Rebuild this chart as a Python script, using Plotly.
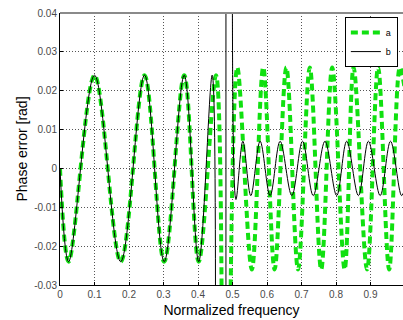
import plotly.graph_objects as go

# ---- data ----
# series "a" (green dashed): extrema of the oscillation, None = break (off-scale excursion)
freq_a = [0.0, 0.025, 0.100, 0.176, 0.245, 0.302, 0.360, 0.402, 0.452, 0.470,
          None,
          0.490, 0.514, 0.556, 0.589, 0.622, 0.656, 0.690, 0.724, 0.757, 0.789,
          0.825, 0.851, 0.890, 0.922, 0.954, 0.985, 1.0]
phase_a = [0.0, -0.024, 0.024, -0.024, 0.024, -0.024, 0.024, -0.024, 0.024, -0.070,
           None,
           -0.070, 0.026, -0.026, 0.026, -0.026, 0.026, -0.026, 0.026, -0.026, 0.026,
           -0.026, 0.026, -0.026, 0.026, -0.026, 0.026, 0.020]

# series "b" (black solid)
freq_b = [0.0, 0.025, 0.100, 0.176, 0.245, 0.302, 0.360, 0.402, 0.441, 0.4505,
          None,
          0.481, 0.481,
          None,
          0.4995, 0.510, 0.530, 0.553, 0.580, 0.609, 0.638, 0.672, 0.703, 0.734,
          0.768, 0.802, 0.831, 0.865, 0.894, 0.928, 0.958, 0.990, 1.0]
phase_b = [0.0, -0.024, 0.024, -0.024, 0.024, -0.024, 0.024, -0.024, 0.024, -0.060,
           None,
           -0.060, 0.060,
           None,
           0.060, -0.008, 0.007, -0.007, 0.007, -0.007, 0.007, -0.007, 0.007, -0.007,
           0.007, -0.007, 0.007, -0.007, 0.007, -0.007, 0.007, -0.007, -0.005]

x_tick_vals = [0, 0.1, 0.2, 0.3, 0.4, 0.5, 0.6, 0.7, 0.8, 0.9]
x_tick_text = ["0", "0.1", "0.2", "0.3", "0.4", "0.5", "0.6", "0.7", "0.8", "0.9"]
y_tick_vals = [-0.03, -0.02, -0.01, 0, 0.01, 0.02, 0.03, 0.04]
y_tick_text = ["-0.03", "-0.02", "-0.01", "0", "0.01", "0.02", "0.03", "0.04"]

fig = go.Figure()
fig.add_trace(go.Scatter(
    x=freq_a, y=phase_a, mode="lines", name="a",
    line=dict(color="#10e010", width=4, dash="7px,4px", shape="spline"),
    connectgaps=False,
))
fig.add_trace(go.Scatter(
    x=freq_b, y=phase_b, mode="lines", name="b",
    line=dict(color="black", width=1, shape="spline"),
    connectgaps=False,
))

axis_font = dict(family="Liberation Sans, Arial, sans-serif", size=10, color="#4a4a4a")
title_font = dict(family="Liberation Sans, Arial, sans-serif", size=14, color="black")

fig.update_layout(
    width=403, height=320,
    margin=dict(l=60, r=0, t=13, b=35, autoexpand=False),
    paper_bgcolor="white", plot_bgcolor="white",
    showlegend=True,
    legend=dict(
        x=0.985, y=0.985, xanchor="right", yanchor="top",
        bgcolor="white", bordercolor="black", borderwidth=1,
        font=dict(family="Liberation Sans, Arial, sans-serif", size=9, color="black"),
        itemwidth=30, tracegroupgap=0,
    ),
    xaxis=dict(
        range=[0, 343 / 345], tickvals=x_tick_vals, ticktext=x_tick_text,
        ticks="inside", ticklen=3, tickcolor="black",
        showline=True, linecolor="black", linewidth=1, mirror=False,
        showgrid=True, gridcolor="#555555", gridwidth=1, griddash="1px,2px",
        zeroline=False, tickfont=axis_font, automargin=False,
        title=dict(text="Normalized frequency", font=title_font, standoff=6),
    ),
    yaxis=dict(
        range=[-0.03, 0.04], tickvals=y_tick_vals, ticktext=y_tick_text,
        ticks="inside", ticklen=3, tickcolor="black",
        showline=True, linecolor="black", linewidth=1, mirror=False,
        showgrid=True, gridcolor="#555555", gridwidth=1, griddash="1px,2px",
        zeroline=False, tickfont=axis_font, automargin=False,
        title=dict(text="Phase error [rad]", font=title_font, standoff=3),
    ),
    shapes=[dict(type="line", xref="paper", yref="paper", x0=0, x1=1, y0=1, y1=1,
                 line=dict(color="#8a8a8a", width=2))],
)

fig.write_html(
    "out.html",
    config={"displayModeBar": False},
    post_script="document.body.style.margin='0';document.body.style.overflow='hidden';",
)
